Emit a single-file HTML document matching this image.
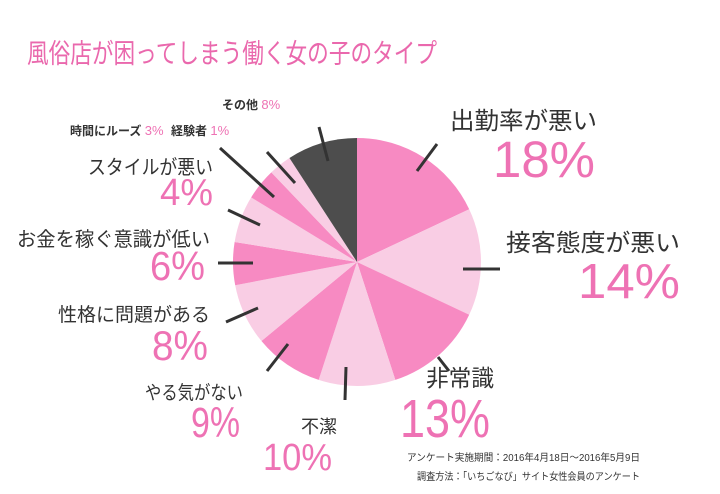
<!DOCTYPE html>
<html><head><meta charset="utf-8"><style>
body{margin:0;background:#fff;width:720px;height:494px;overflow:hidden}
svg{display:block}
text{font-family:"Liberation Sans","Noto Sans CJK JP",sans-serif}
.k{fill:#333}.p{fill:#ee72b4}
</style></head><body>
<svg id="s" width="720" height="494" viewBox="0 0 720 494">
<text x="27" y="63" font-size="27" fill="#ea68ad" textLength="410" lengthAdjust="spacingAndGlyphs">風俗店が困ってしまう働く女の子のタイプ</text>
<g id="pie"></g>
<g stroke="#333" stroke-width="3" stroke-linecap="butt">
<line x1="437" y1="144" x2="417" y2="171"/>
<line x1="463" y1="269" x2="500" y2="269"/>
<line x1="438" y1="357" x2="449" y2="371"/>
<line x1="346" y1="367" x2="345" y2="400"/>
<line x1="288" y1="344" x2="267" y2="371"/>
<line x1="258" y1="308" x2="226" y2="322"/>
<line x1="253" y1="263" x2="218" y2="263"/>
<line x1="260" y1="225" x2="228" y2="210"/>
<line x1="274" y1="197" x2="220" y2="148"/>
<line x1="295" y1="183" x2="267" y2="152"/>
<line x1="328" y1="161" x2="319" y2="127"/>
</g>
<g font-weight="bold" font-size="12">
<text x="222" y="109" class="k">その他 <tspan class="p" font-weight="normal" font-size="13">8%</tspan></text>
<text x="70" y="135" class="k">時間にルーズ <tspan class="p" font-weight="normal" font-size="13">3%</tspan></text>
<text x="171" y="135" class="k">経験者 <tspan class="p" font-weight="normal" font-size="13">1%</tspan></text>
</g>
<text x="450" y="129" font-size="24" class="k" textLength="147" lengthAdjust="spacingAndGlyphs">出勤率が悪い</text>
<text x="493" y="177" font-size="51" class="p" textLength="102" lengthAdjust="spacingAndGlyphs">18%</text>
<text x="506" y="251" font-size="24" class="k" textLength="174" lengthAdjust="spacingAndGlyphs">接客態度が悪い</text>
<text x="578" y="298" font-size="49" class="p" textLength="102" lengthAdjust="spacingAndGlyphs">14%</text>
<text x="426" y="386" font-size="23" class="k" textLength="68" lengthAdjust="spacingAndGlyphs">非常識</text>
<text x="400" y="437" font-size="54" class="p" textLength="90" lengthAdjust="spacingAndGlyphs">13%</text>
<text x="301" y="433" font-size="18" class="k">不潔</text>
<text x="263" y="470" font-size="38" class="p" textLength="69" lengthAdjust="spacingAndGlyphs">10%</text>
<text x="145" y="399" font-size="19" class="k" textLength="98" lengthAdjust="spacingAndGlyphs">やる気がない</text>
<text x="191" y="437" font-size="43" class="p" textLength="49" lengthAdjust="spacingAndGlyphs">9%</text>
<text x="58" y="321" font-size="19" class="k" textLength="152" lengthAdjust="spacingAndGlyphs">性格に問題がある</text>
<text x="152" y="360" font-size="42" class="p" textLength="56" lengthAdjust="spacingAndGlyphs">8%</text>
<text x="17" y="246" font-size="20" class="k" textLength="193" lengthAdjust="spacingAndGlyphs">お金を稼ぐ意識が低い</text>
<text x="150" y="280" font-size="41" class="p" textLength="55" lengthAdjust="spacingAndGlyphs">6%</text>
<text x="88" y="174" font-size="20" class="k" textLength="125" lengthAdjust="spacingAndGlyphs">スタイルが悪い</text>
<text x="160" y="205" font-size="38" class="p" textLength="53" lengthAdjust="spacingAndGlyphs">4%</text>
<text x="640" y="461" font-size="10" class="k" text-anchor="end" textLength="233" lengthAdjust="spacingAndGlyphs">アンケート実施期間：2016年4月18日～2016年5月9日</text>
<text x="640" y="480" font-size="10" class="k" text-anchor="end" textLength="223" lengthAdjust="spacingAndGlyphs">調査方法：「いちごなび」サイト女性会員のアンケート</text>
</svg>
<script>
var cx=357,cy=262,r=124;
var b=[0,64.8,115.2,162,198,230.4,259.2,279.3,301.4,316.3,327,360];
var c=["#f78ac2","#f9cde4","#f78ac2","#f9cde4","#f78ac2","#f9cde4","#f78ac2","#f9cde4","#f78ac2","#f9cde4","#4d4d4d"];
var g=document.getElementById("pie"),h="";
function pt(a){a=a*Math.PI/180;return (cx+r*Math.sin(a)).toFixed(2)+","+(cy-r*Math.cos(a)).toFixed(2);}
for(var i=0;i<11;i++){var l=(b[i+1]-b[i])>180?1:0;
h+='<path fill="'+c[i]+'" d="M'+cx+','+cy+' L'+pt(b[i])+' A'+r+','+r+' 0 '+l+' 1 '+pt(b[i+1])+' Z"/>';}
g.innerHTML=h;
</script>
</body></html>
